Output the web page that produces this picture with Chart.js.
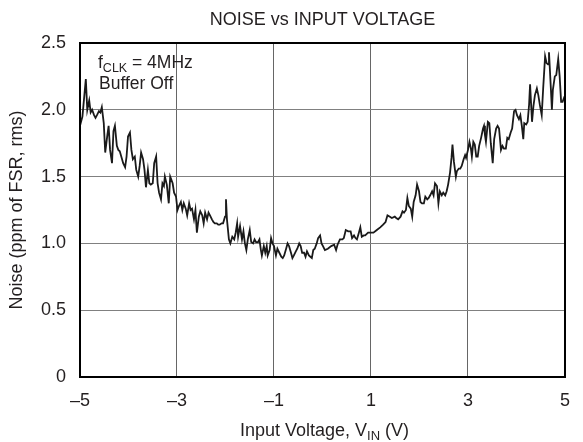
<!DOCTYPE html>
<html>
<head>
<meta charset="utf-8">
<script src="https://cdn.jsdelivr.net/npm/chart.js@4"></script>
<style>
  html, body { margin: 0; padding: 0; background: #fff; }
  #wrap { width: 583px; height: 442px; }
</style>
</head>
<body>
<div id="wrap"><canvas id="noiseChart" width="583" height="442"></canvas></div>
<script>
// Axis ticks
const xTicks = [-5, -3, -1, 1, 3, 5];
const yTicks = [0, 0.5, 1.0, 1.5, 2.0, 2.5];
const yTickLabels = ["0", "0.5", "1.0", "1.5", "2.0", "2.5"];

// Input voltage (V)
const volts = [
  -5.00, -4.95, -4.88, -4.85, -4.81, -4.78, -4.75, -4.71, -4.68, -4.65,
  -4.61, -4.58, -4.55, -4.51, -4.48, -4.44, -4.41, -4.38, -4.34, -4.31,
  -4.28, -4.24, -4.21, -4.18, -4.14, -4.11, -4.07, -4.04, -4.01, -3.97,
  -3.94, -3.91, -3.87, -3.84, -3.80, -3.77, -3.74, -3.70, -3.67, -3.64,
  -3.60, -3.57, -3.54, -3.50, -3.47, -3.43, -3.40, -3.37, -3.33, -3.30,
  -3.27, -3.25, -3.21, -3.17, -3.14, -3.09, -3.06, -3.02, -2.99, -2.96,
  -2.92, -2.89, -2.86, -2.82, -2.79, -2.75, -2.72, -2.69, -2.65, -2.62,
  -2.59, -2.55, -2.52, -2.48, -2.45, -2.42, -2.38, -2.35, -2.32, -2.28,
  -2.25, -2.22, -2.18, -2.15, -2.12, -2.08, -2.05, -2.01, -1.99, -1.97,
  -1.93, -1.90, -1.86, -1.82, -1.79, -1.76, -1.74, -1.70, -1.66, -1.63,
  -1.60, -1.57, -1.54, -1.50, -1.47, -1.43, -1.40, -1.37, -1.33, -1.30,
  -1.27, -1.25, -1.21, -1.18, -1.15, -1.13, -1.09, -1.06, -1.03, -1.00,
  -0.96, -0.93, -0.89, -0.85, -0.82, -0.79, -0.75, -0.72, -0.69, -0.65,
  -0.62, -0.59, -0.55, -0.52, -0.48, -0.45, -0.42, -0.38, -0.35, -0.32,
  -0.28, -0.25, -0.22, -0.19, -0.16, -0.12, -0.09, -0.05, -0.02, 0.01,
  0.05, 0.11, 0.18, 0.24, 0.28, 0.31, 0.36, 0.41, 0.44, 0.48,
  0.53, 0.58, 0.61, 0.65, 0.68, 0.71, 0.75, 0.78, 0.81, 0.85,
  0.88, 0.94, 0.98, 1.05, 1.12, 1.19, 1.25, 1.30, 1.34, 1.39,
  1.43, 1.49, 1.52, 1.56, 1.61, 1.65, 1.68, 1.72, 1.75, 1.78,
  1.82, 1.85, 1.88, 1.92, 1.95, 1.99, 2.02, 2.05, 2.09, 2.12,
  2.16, 2.19, 2.22, 2.26, 2.29, 2.32, 2.36, 2.39, 2.42, 2.46,
  2.49, 2.53, 2.56, 2.59, 2.63, 2.66, 2.68, 2.71, 2.75, 2.77,
  2.81, 2.84, 2.87, 2.91, 2.94, 2.96, 3.00, 3.03, 3.06, 3.08,
  3.11, 3.14, 3.17, 3.20, 3.23, 3.27, 3.31, 3.33, 3.35, 3.37,
  3.41, 3.44, 3.47, 3.51, 3.54, 3.58, 3.61, 3.64, 3.68, 3.71,
  3.74, 3.78, 3.81, 3.84, 3.88, 3.91, 3.95, 3.98, 4.01, 4.05,
  4.08, 4.11, 4.14, 4.16, 4.20, 4.23, 4.26, 4.28, 4.32, 4.35,
  4.38, 4.42, 4.45, 4.48, 4.52, 4.55, 4.59, 4.62, 4.65, 4.67,
  4.71, 4.73, 4.75, 4.79, 4.82, 4.86, 4.89, 4.92, 4.95, 4.98,
  5.00
];

// Noise (ppm of FSR, rms)
const noise = [
  1.88, 1.95, 2.23, 2.00, 2.07, 1.98, 2.00, 1.96, 1.94, 1.96,
  1.99, 1.98, 2.02, 1.90, 1.68, 1.80, 1.88, 1.70, 1.60, 1.84,
  1.88, 1.73, 1.70, 1.69, 1.64, 1.60, 1.57, 1.65, 1.80, 1.83,
  1.70, 1.63, 1.65, 1.55, 1.50, 1.58, 1.68, 1.63, 1.55, 1.42,
  1.55, 1.45, 1.44, 1.45, 1.60, 1.65, 1.45, 1.38, 1.33, 1.45,
  1.43, 1.50, 1.44, 1.30, 1.50, 1.45, 1.38, 1.35, 1.25, 1.28,
  1.31, 1.25, 1.30, 1.26, 1.21, 1.30, 1.25, 1.26, 1.18, 1.25,
  1.08, 1.20, 1.24, 1.21, 1.15, 1.23, 1.18, 1.23, 1.21, 1.18,
  1.16, 1.15, 1.15, 1.14, 1.14, 1.15, 1.15, 1.20, 1.33, 1.18,
  1.03, 1.00, 1.05, 1.03, 1.08, 1.15, 1.05, 1.13, 1.03, 1.09,
  1.00, 0.95, 1.03, 1.10, 1.01, 1.00, 1.03, 1.01, 1.01, 1.03,
  0.95, 0.91, 0.98, 0.93, 0.98, 0.91, 0.95, 1.04, 1.00, 0.98,
  0.91, 0.96, 0.93, 0.90, 0.89, 0.91, 0.96, 1.00, 0.98, 0.93,
  0.89, 0.91, 0.94, 0.96, 1.00, 0.98, 0.93, 0.93, 0.90, 0.94,
  0.91, 0.90, 0.89, 0.95, 0.96, 1.00, 1.04, 1.06, 1.00, 0.98,
  0.95, 0.96, 0.98, 0.99, 0.95, 0.99, 1.03, 1.03, 1.04, 1.10,
  1.09, 1.09, 1.04, 1.06, 1.04, 1.03, 1.08, 1.12, 1.05, 1.06,
  1.06, 1.08, 1.08, 1.08, 1.10, 1.12, 1.14, 1.16, 1.21, 1.20,
  1.19, 1.20, 1.19, 1.18, 1.20, 1.24, 1.23, 1.25, 1.34, 1.28,
  1.26, 1.20, 1.31, 1.36, 1.44, 1.39, 1.31, 1.30, 1.30, 1.35,
  1.33, 1.34, 1.36, 1.39, 1.36, 1.45, 1.43, 1.30, 1.39, 1.36,
  1.38, 1.36, 1.39, 1.44, 1.53, 1.64, 1.74, 1.61, 1.50, 1.54,
  1.56, 1.56, 1.58, 1.63, 1.66, 1.64, 1.70, 1.76, 1.71, 1.65,
  1.76, 1.74, 1.65, 1.65, 1.73, 1.79, 1.86, 1.88, 1.81, 1.76,
  1.91, 1.90, 1.75, 1.60, 1.78, 1.86, 1.88, 1.86, 1.70, 1.73,
  1.71, 1.71, 1.79, 1.78, 1.83, 1.86, 1.99, 2.00, 1.96, 1.93,
  1.96, 1.88, 1.78, 1.90, 1.89, 1.91, 2.04, 2.19, 1.91, 2.03,
  2.11, 2.16, 2.11, 2.04, 1.96, 2.16, 2.40, 2.35, 2.34, 2.43,
  2.15, 2.00, 2.15, 2.25, 2.26, 2.38, 2.25, 2.06, 2.06, 2.09,
  2.08
];

const textColor = "#231f20";
const fontFamily = "'Liberation Sans', Arial, Helvetica, sans-serif";

// Draws plot frame, title, axis titles and the note (with subscripts)
const decorations = {
  id: "decorations",
  afterDraw(chart) {
    const c = chart.ctx;
    const a = chart.chartArea;
    c.save();

    // frame
    c.strokeStyle = "#000";
    c.lineWidth = 2;
    c.strokeRect(a.left, a.top, a.right - a.left, a.bottom - a.top);

    c.fillStyle = textColor;
    c.textBaseline = "alphabetic";
    const mid = (a.left + a.right) / 2;

    // chart title
    c.font = "18px " + fontFamily;
    c.textAlign = "center";
    c.fillText("NOISE vs INPUT VOLTAGE", mid, 25);

    // x axis title with subscript
    c.textAlign = "left";
    const big = "18px " + fontFamily;
    const small = "13px " + fontFamily;
    c.font = big;
    const p1 = "Input Voltage, V";
    const p3 = " (V)";
    const w1 = c.measureText(p1).width;
    const w3 = c.measureText(p3).width;
    c.font = small;
    const w2 = c.measureText("IN").width;
    let x0 = mid - (w1 + w2 + w3) / 2 + 2;
    const base = 436;
    c.font = big;
    c.fillText(p1, x0, base);
    c.font = small;
    c.fillText("IN", x0 + w1, base + 4);
    c.font = big;
    c.fillText(p3, x0 + w1 + w2, base);

    // y axis title
    c.save();
    c.translate(17, (a.top + a.bottom) / 2);
    c.rotate(-Math.PI / 2);
    c.textAlign = "center";
    c.textBaseline = "middle";
    c.font = big;
    c.fillText("Noise (ppm of FSR, rms)", 0, 0);
    c.restore();

    // note inside the plot
    const nx = 98;
    c.font = "17.5px " + fontFamily;
    c.fillText("f", nx, 68);
    const wf = c.measureText("f").width;
    c.font = "12.5px " + fontFamily;
    c.fillText("CLK", nx + wf, 72);
    const wc = c.measureText("CLK").width;
    c.font = "17.5px " + fontFamily;
    c.fillText(" = 4MHz", nx + wf + wc, 68);
    c.fillText("Buffer Off", nx + 1, 89);

    c.restore();
  }
};

new Chart(document.getElementById("noiseChart"), {
  type: "line",
  data: {
    datasets: [{
      data: volts.map((v, i) => ({ x: v, y: noise[i] })),
      borderColor: "#1a1a1a",
      borderWidth: 1.8,
      pointRadius: 0,
      tension: 0,
      fill: false
    }]
  },
  options: {
    responsive: false,
    animation: false,
    devicePixelRatio: 1,
    layout: { padding: { top: 43, right: 7, left: 0, bottom: 0 } },
    plugins: {
      legend: { display: false },
      title: { display: false },
      tooltip: { enabled: false }
    },
    scales: {
      x: {
        type: "linear",
        min: -5,
        max: 5,
        afterBuildTicks: (scale) => { scale.ticks = xTicks.map(v => ({ value: v })); },
        afterFit: (scale) => { scale.height = 65; },
        grid: { color: "#666666", lineWidth: 1, drawTicks: false },
        border: { display: false },
        ticks: {
          padding: 13,
          color: textColor,
          font: { size: 18, family: fontFamily },
          maxRotation: 0,
          autoSkip: false,
          callback: (v) => (v < 0 ? "\u2013" + Math.abs(v) : String(v))
        }
      },
      y: {
        type: "linear",
        min: 0,
        max: 2.5,
        afterBuildTicks: (scale) => { scale.ticks = yTicks.map(v => ({ value: v })); },
        afterFit: (scale) => { scale.width = 80; },
        grid: { color: "#808080", lineWidth: 1, drawTicks: false },
        border: { display: false },
        ticks: {
          padding: 14,
          color: textColor,
          font: { size: 18, family: fontFamily },
          autoSkip: false,
          callback: (v) => yTickLabels[yTicks.indexOf(v)]
        }
      }
    }
  },
  plugins: [decorations]
});
</script>
</body>
</html>
